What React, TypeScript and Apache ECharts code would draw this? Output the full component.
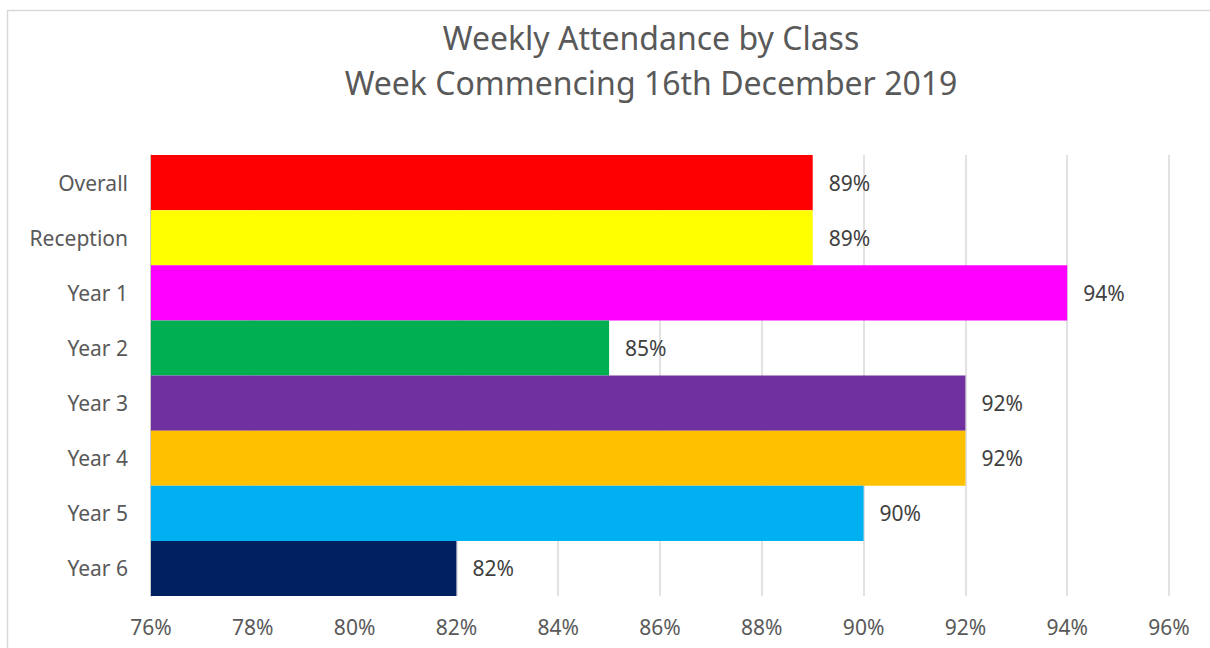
import React, { useEffect, useRef } from "react";
import * as echarts from "echarts";

const categories = ["Overall", "Reception", "Year 1", "Year 2", "Year 3", "Year 4", "Year 5", "Year 6"];
const values = [89, 89, 94, 85, 92, 92, 90, 82];
const colors = ["#FF0000", "#FFFF00", "#FF00FF", "#00B050", "#7030A0", "#FFC000", "#00B0F0", "#002060"];
const titleLines = ["Weekly Attendance by Class", "Week Commencing 16th December 2019"];

export default function App() {
  const ref = useRef<HTMLDivElement>(null);
  useEffect(() => {
    if (!ref.current) return;
    const chart = echarts.init(ref.current, undefined, { renderer: "svg" });
    const font = "'Noto Sans', 'Open Sans', sans-serif";
    chart.setOption({
      animation: false,
      backgroundColor: "#ffffff",
      textStyle: { fontFamily: font },
      title: {
        text: titleLines.join("\n"),
        left: 646,
        top: 10,
        textAlign: "center",
        textStyle: { fontSize: 32, fontWeight: "normal", color: "#595959", lineHeight: 45, fontFamily: font },
      },
      graphic: [
        {
          type: "rect",
          shape: { x: 7.5, y: 10.5, width: 1300, height: 700 },
          style: { fill: "none", stroke: "#d9d9d9", lineWidth: 1.5 },
          silent: true,
        },
      ],
      grid: { left: 151, right: 41, top: 155, bottom: 52, containLabel: false },
      xAxis: {
        type: "value",
        min: 76,
        max: 96,
        interval: 2,
        axisLine: { show: false },
        axisTick: { show: false },
        splitLine: { show: true, lineStyle: { color: "#d9d9d9", width: 1.5 } },
        axisLabel: { formatter: "{value}%", fontSize: 21, color: "#595959", margin: 20, fontFamily: font },
      },
      yAxis: {
        type: "category",
        data: categories,
        inverse: true,
        axisLine: { show: true, lineStyle: { color: "#bfbfbf", width: 1.5 } },
        axisTick: { show: false },
        axisLabel: { fontSize: 21, color: "#595959", margin: 23, fontFamily: font },
      },
      series: [
        {
          type: "bar",
          barCategoryGap: "0%",
          data: values.map((v, i) => ({ value: v, itemStyle: { color: colors[i] } })),
          label: {
            show: true,
            position: "right",
            distance: 16,
            formatter: "{c}%",
            fontSize: 21,
            color: "#404040",
            fontFamily: font,
          },
        },
      ],
    });
    return () => chart.dispose();
  }, []);
  return <div ref={ref} style={{ position: "fixed", left: 0, top: 0, width: 1210, height: 648 }} />;
}
